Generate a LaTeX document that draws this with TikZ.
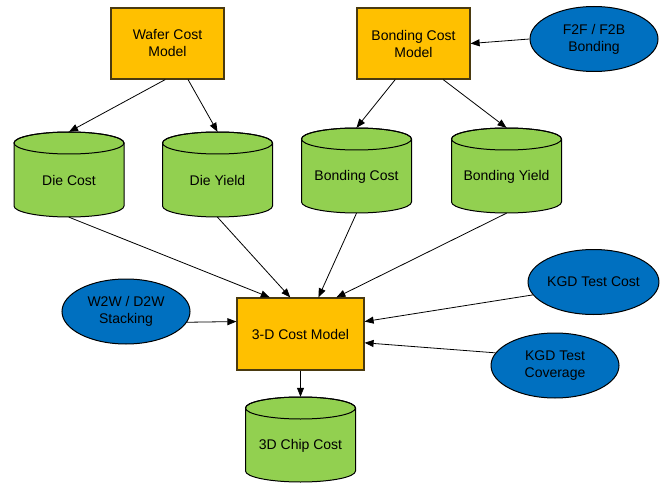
\documentclass[tikz,border=0pt]{standalone}
\usepackage{fontspec}
\setmainfont{Liberation Sans}
\usetikzlibrary{arrows.meta,calc,shapes.geometric}
\definecolor{boxorange}{HTML}{FFC000}
\definecolor{boxedge}{HTML}{4A3A10}
\definecolor{cylgreen}{HTML}{92D050}
\definecolor{ellblue}{HTML}{0070C0}
\tikzset{
  modelbox/.style={draw=boxedge, fill=boxorange, line width=1.2pt, minimum width=113pt, minimum height=71pt, align=center, font=\fontsize{14}{17}\selectfont, inner sep=0pt},
  inputell/.style={ellipse, draw=black, fill=ellblue, line width=1pt, minimum width=128pt, minimum height=65pt, align=center, font=\fontsize{14}{17}\selectfont, inner sep=0pt},
  cylbody/.style={draw=black, fill=cylgreen, line width=1pt},
  cylanchor/.style={minimum width=110pt, minimum height=85pt, inner sep=0pt},
  cyltext/.style={inner sep=0pt, font=\fontsize{14}{17}\selectfont},
  flow/.style={draw=black, line width=0.8pt, -{Triangle[length=9pt,width=7pt]}},
}
\newcommand{\mycyl}[4]{% name, cx, cy (negative), text
  \path[cylbody] (#2-55,#3+31.5) -- (#2-55,#3-31.5) arc[start angle=180,end angle=360,x radius=55,y radius=11] -- (#2+55,#3+31.5) arc[start angle=0,end angle=180,x radius=55,y radius=11] -- cycle;
  \draw[line width=1pt] (#2,#3+31.5) ellipse[x radius=55,y radius=11];
  \node[cylanchor] (#1) at (#2,#3) {};
  \node[cyltext] (#1-text) at (#2,#3-6) {#4};
}
\begin{document}
\begin{tikzpicture}[x=1pt,y=1pt]
\useasboundingbox (0,0) rectangle (672,-484);
% model boxes
\node[modelbox] (wafer) at (167.5,-43.5) {Wafer Cost\\Model};
\node[modelbox] (bonding) at (413.5,-43.5) {Bonding Cost\\Model};
\node[modelbox, minimum width=127pt, minimum height=72pt] (model3d) at (300.5,-334) {3-D Cost Model};
% ellipses
\node[inputell] (f2f) at (594,-39) {F2F / F2B\\Bonding};
\node[inputell] (w2w) at (126,-311.5) {W2W / D2W\\Stacking};
\node[inputell] (kgdcost) at (593.5,-282) {KGD Test Cost};
\node[inputell] (kgdcov) at (555,-365.5) {KGD Test\\Coverage};
% cylinders
\mycyl{diecost}{69}{-174.5}{Die Cost}
\mycyl{dieyield}{217.5}{-174.5}{Die Yield}
\mycyl{bondcost}{356.5}{-170.5}{Bonding Cost}
\mycyl{bondyield}{506.5}{-170.5}{Bonding Yield}
\mycyl{chipcost}{300.5}{-439.5}{3D Chip Cost}
% connectors
\draw[flow] ($(wafer.south west)!0.48!(wafer.south east)$) -- (diecost.north);
\draw[flow] ($(wafer.south west)!0.68!(wafer.south east)$) -- (dieyield.north);
\draw[flow] ($(bonding.south west)!0.34!(bonding.south east)$) -- (bondcost.north);
\draw[flow] ($(bonding.south west)!0.76!(bonding.south east)$) -- (bondyield.north);
\draw[flow] (f2f.west) -- (bonding.east);
\draw[flow] (diecost.south) -- ($(model3d.north west)!0.26!(model3d.north east)$);
\draw[flow] (dieyield.south) -- ($(model3d.north west)!0.42!(model3d.north east)$);
\draw[flow] (bondcost.south) -- ($(model3d.north west)!0.64!(model3d.north east)$);
\draw[flow] (bondyield.south) -- ($(model3d.north west)!0.78!(model3d.north east)$);
\draw[flow] (w2w.-10) -- ($(model3d.north west)!0.33!(model3d.south west)$);
\draw[flow] (kgdcost.192) -- ($(model3d.north east)!0.33!(model3d.south east)$);
\draw[flow] (kgdcov.168) -- ($(model3d.north east)!0.62!(model3d.south east)$);
\draw[flow] (model3d.south) -- (chipcost.north);
\end{tikzpicture}
\end{document}
